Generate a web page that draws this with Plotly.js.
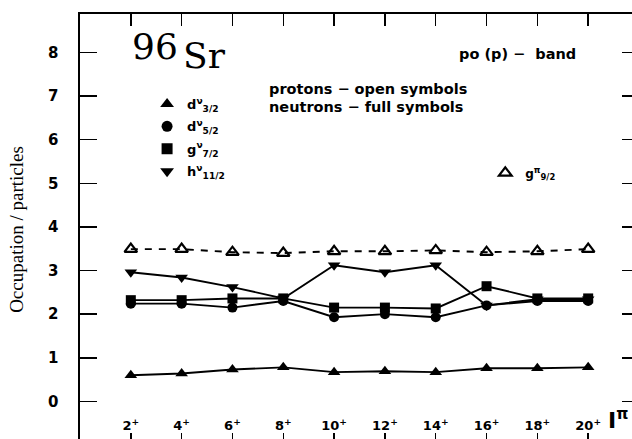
<!DOCTYPE html>
<html>
<head>
<meta charset="utf-8">
<script src="https://cdn.plot.ly/plotly-3.0.1.min.js"></script>
<style>
html,body{margin:0;padding:0;overflow:hidden;background:#fff;width:632px;height:439px;}
#chart{width:650px;height:460px;}
</style>
</head>
<body>
<div id="chart"></div>
<script>
// Spin values I (x categories)
const spins = [2, 4, 6, 8, 10, 12, 14, 16, 18, 20];
const spinLabels = ["2<sup>+</sup>","4<sup>+</sup>","6<sup>+</sup>","8<sup>+</sup>","10<sup>+</sup>","12<sup>+</sup>","14<sup>+</sup>","16<sup>+</sup>","18<sup>+</sup>","20<sup>+</sup>"];
// proton g9/2 (open triangles, dashed)
const protonG92 = [3.49, 3.49, 3.42, 3.40, 3.44, 3.44, 3.46, 3.42, 3.44, 3.49];
// neutron orbitals (full symbols)
const neutronH112 = [2.96, 2.84, 2.62, 2.36, 3.12, 2.96, 3.12, 2.20, 2.34, 2.34];
const neutronG72 = [2.32, 2.32, 2.36, 2.36, 2.15, 2.15, 2.13, 2.64, 2.36, 2.36];
const neutronD52 = [2.24, 2.24, 2.15, 2.30, 1.93, 2.00, 1.93, 2.20, 2.30, 2.30];
const neutronD32 = [0.60, 0.64, 0.73, 0.78, 0.67, 0.69, 0.67, 0.76, 0.76, 0.78];
const yTicks = [0,1,2,3,4,5,6,7,8];

function isOpen(symbol){ return symbol.indexOf('open') >= 0; }
function dataTrace(y, symbol, size, dash){
  return {x: spins, y: y, type:'scatter', mode:'lines+markers', showlegend:false,
    line:{color:'#000', width:1.9, dash: dash || 'solid'},
    marker:{symbol:symbol, size:size, color:'#000', line:{color:'#000', width: isOpen(symbol) ? 2.2 : 0}}};
}
function legendTrace(name, symbol, size, legend, group){
  return {x:[null], y:[null], type:'scatter', mode:'markers', name:name, legend:legend, legendgroup:group,
    marker:{symbol:symbol, size:size, color:'#000', line:{color:'#000', width: isOpen(symbol) ? 2.2 : 0}}};
}

const traces = [
  dataTrace(protonG92, 'triangle-up-open', 11, '7px,7px'),
  dataTrace(neutronH112, 'triangle-down', 11),
  dataTrace(neutronG72, 'square', 10),
  dataTrace(neutronD52, 'circle', 10),
  dataTrace(neutronD32, 'triangle-up', 11),
  legendTrace('d<sup>ν</sup><sub>3/2</sub>', 'triangle-up', 12, 'legend', 'a'),
  legendTrace('d<sup>ν</sup><sub>5/2</sub>', 'circle', 11, 'legend', 'b'),
  legendTrace('g<sup>ν</sup><sub>7/2</sub>', 'square', 11, 'legend', 'c'),
  legendTrace('h<sup>ν</sup><sub>11/2</sub>', 'triangle-down', 12, 'legend', 'd'),
  legendTrace('g<sup>π</sup><sub>9/2</sub>', 'triangle-up-open', 11, 'legend2', 'e')
];

const boldFont = {family:'DejaVu Sans', size:14.5, color:'#000', weight:'bold'};

const layout = {
  width:650, height:460,
  margin:{l:80, r:11, t:14, b:15},
  paper_bgcolor:'#fff', plot_bgcolor:'#fff',
  showlegend:true,
  legend:{x:0.12, y:0.826, xanchor:'left', yanchor:'top', bgcolor:'rgba(0,0,0,0)', borderwidth:0,
    font:{family:'DejaVu Sans', size:13, color:'#000', weight:'bold'}, tracegroupgap:2.5},
  legend2:{x:0.725, y:0.665, xanchor:'left', yanchor:'top', bgcolor:'rgba(0,0,0,0)', borderwidth:0,
    font:{family:'DejaVu Sans', size:12, color:'#000', weight:'bold'}},
  xaxis:{range:[0,22], tickvals:spins, ticktext:spinLabels, ticks:'inside', ticklen:12, tickwidth:1.5, tickcolor:'#000',
    mirror:'ticks', showline:true, linecolor:'#000', linewidth:2, showgrid:false, zeroline:false,
    ticklabelposition:'inside', tickfont:{family:'DejaVu Sans', size:13, color:'#000', weight:'bold'}},
  yaxis:{range:[-1.0, 8.88], tickvals:yTicks, ticks:'inside', ticklen:17, tickwidth:1.5, tickcolor:'#000',
    mirror:'ticks', showline:true, linecolor:'#000', linewidth:2.5, showgrid:false, zeroline:false,
    ticklabelstandoff:16, tickfont:{family:'DejaVu Sans', size:15, color:'#000', weight:'bold'},
    title:{text:'Occupation / particles', font:{family:'Liberation Serif', size:19, color:'#000'}, standoff:20}},
  annotations:[
    {xref:'paper', yref:'paper', x:0.09, y:0.925, xanchor:'left', yanchor:'middle', showarrow:false,
      text:'96', font:{family:'DejaVu Serif', size:36, color:'#000'}},
    {xref:'paper', yref:'paper', x:0.18, y:0.903, xanchor:'left', yanchor:'middle', showarrow:false,
      text:'Sr', font:{family:'DejaVu Serif', size:36, color:'#000'}},
    {xref:'paper', yref:'paper', x:0.675, y:0.907, xanchor:'left', yanchor:'middle', showarrow:false,
      text:'po (p) −  band', font:boldFont},
    {xref:'paper', yref:'paper', x:0.334, y:0.826, xanchor:'left', yanchor:'middle', showarrow:false,
      text:'protons − open symbols', font:boldFont},
    {xref:'paper', yref:'paper', x:0.334, y:0.784, xanchor:'left', yanchor:'middle', showarrow:false,
      text:'neutrons − full symbols', font:boldFont},
    {xref:'paper', yref:'paper', x:0.984, y:0.06, xanchor:'right', yanchor:'middle', showarrow:false,
      text:'<b>I</b><sup>π</sup>', font:{family:'DejaVu Sans', size:22, color:'#000', weight:'bold'}}
  ]
};

Plotly.newPlot('chart', traces, layout, {displayModeBar:false, staticPlot:true});
</script>
</body>
</html>
